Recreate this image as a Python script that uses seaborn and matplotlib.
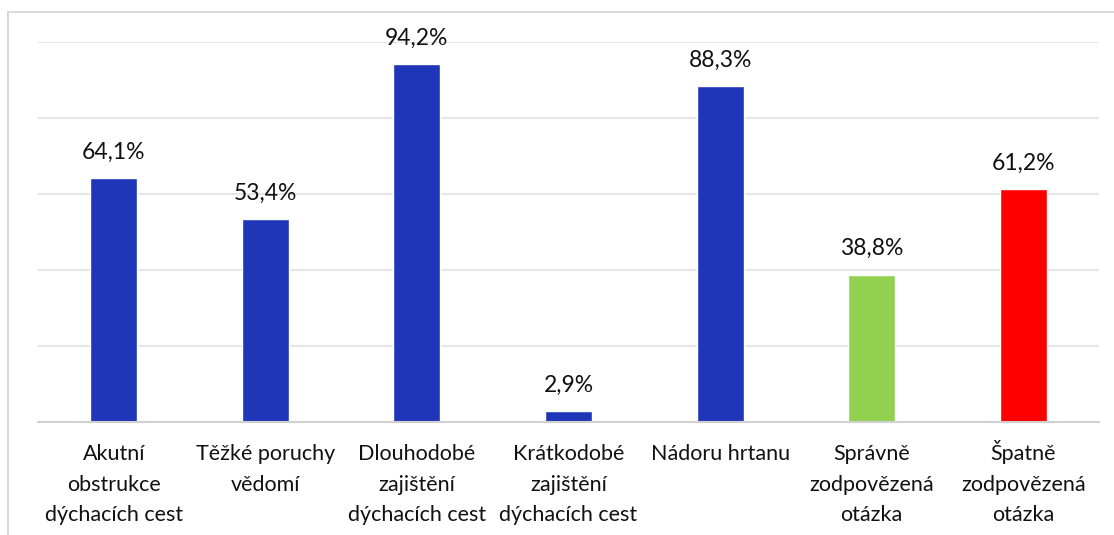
import matplotlib
matplotlib.use("Agg")
import matplotlib.pyplot as plt
import seaborn as sns
import pandas as pd
from matplotlib.patches import Rectangle

categories = [
    "Akutní\nobstrukce\ndýchacích cest",
    "Těžké poruchy\nvědomí",
    "Dlouhodobé\nzajištění\ndýchacích cest",
    "Krátkodobé\nzajištění\ndýchacích cest",
    "Nádoru hrtanu",
    "Správně\nzodpovězená\notázka",
    "Špatně\nzodpovězená\notázka",
]
values = [64.1, 53.4, 94.2, 2.9, 88.3, 38.8, 61.2]
value_labels = ["64,1%", "53,4%", "94,2%", "2,9%", "88,3%", "38,8%", "61,2%"]
colors = ["#1F36B8", "#1F36B8", "#1F36B8", "#1F36B8", "#1F36B8", "#92D050", "#FF0000"]

sns.set_theme(style="white")
plt.rcParams['font.family'] = ['Lato', 'DejaVu Sans']

df = pd.DataFrame({"cat": categories, "val": values})

fig = plt.figure(figsize=(11.14, 5.35), dpi=100)
ax = fig.add_axes([38/1114, 1-422/535, (1099-38)/1114, 380/535])

sns.barplot(data=df, x="cat", y="val", hue="cat", palette=colors, width=0.31,
            legend=False, ax=ax, saturation=1)

ax.set_ylim(0, 100)
ax.set_xlim(-0.5, len(categories) - 0.5)
ax.set_yticks([0, 20, 40, 60, 80, 100])
ax.yaxis.grid(True, color="#e6e6e6", linewidth=1.5)
ax.set_axisbelow(True)
ax.tick_params(axis="y", left=False, labelleft=False)

# pad every label to three lines so all first lines share one baseline
nlines = max(c.count("\n") + 1 for c in categories)
shown = [c + "\n " * (nlines - 1 - c.count("\n")) for c in categories]
ax.set_xticks(range(len(categories)))
ax.set_xticklabels(shown)
ax.tick_params(axis="x", bottom=False, pad=65, labelsize=15.5, labelcolor="#111111")
for lbl in ax.get_xticklabels():
    lbl.set_linespacing(1.63)
    lbl.set_verticalalignment("baseline")
for s in ["top", "right", "left"]:
    ax.spines[s].set_visible(False)
ax.spines["bottom"].set_color("#d0d0d0")
ax.spines["bottom"].set_linewidth(1.5)
ax.set_xlabel("")
ax.set_ylabel("")

for i, cont in enumerate(ax.containers):
    ax.bar_label(cont, labels=[value_labels[i]], padding=11, fontsize=16.5, color="#111111")

fig.patches.append(Rectangle((8/1114, -0.1), 1.2, 1 - 12/535 + 0.1,
                             transform=fig.transFigure, fill=False,
                             edgecolor="#d9d9d9", linewidth=1.5))

fig.savefig("out.png", dpi=100)
